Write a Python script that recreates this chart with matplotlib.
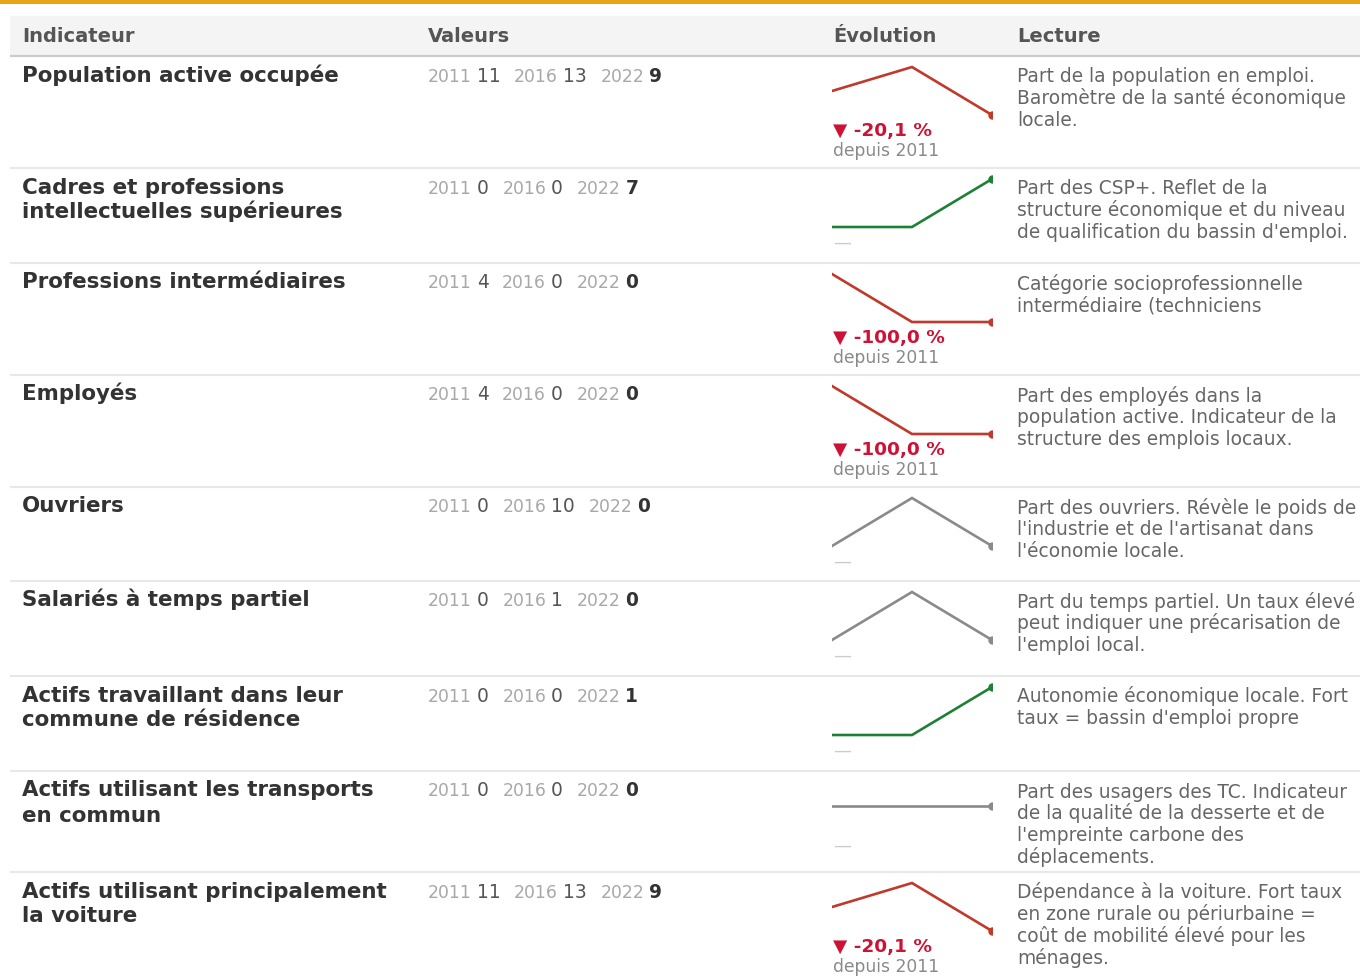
import matplotlib
matplotlib.use("Agg")
import matplotlib.pyplot as plt

plt.rcParams['font.family'] = ['DejaVu Sans']

# ---------------- data ----------------
headers = ["Indicateur", "Valeurs", "Évolution", "Lecture"]
years = ["2011", "2016", "2022"]
indicators = [
    "Population active occupée",
    "Cadres et professions\nintellectuelles supérieures",
    "Professions intermédiaires",
    "Employés",
    "Ouvriers",
    "Salariés à temps partiel",
    "Actifs travaillant dans leur\ncommune de résidence",
    "Actifs utilisant les transports\nen commun",
    "Actifs utilisant principalement\nla voiture",
]
v2011 = [11, 0, 4, 4, 0, 0, 0, 0, 11]
v2016 = [13, 0, 0, 0, 10, 1, 0, 0, 13]
v2022 = [9, 7, 0, 0, 0, 0, 1, 0, 9]
change_pct = ["-20,1", None, "-100,0", "-100,0", None, None, None, None, "-20,1"]
readings = [
    "Part de la population en emploi.\nBaromètre de la santé économique\nlocale.",
    "Part des CSP+. Reflet de la\nstructure économique et du niveau\nde qualification du bassin d'emploi.",
    "Catégorie socioprofessionnelle\nintermédiaire (techniciens",
    "Part des employés dans la\npopulation active. Indicateur de la\nstructure des emplois locaux.",
    "Part des ouvriers. Révèle le poids de\nl'industrie et de l'artisanat dans\nl'économie locale.",
    "Part du temps partiel. Un taux élevé\npeut indiquer une précarisation de\nl'emploi local.",
    "Autonomie économique locale. Fort\ntaux = bassin d'emploi propre",
    "Part des usagers des TC. Indicateur\nde la qualité de la desserte et de\nl'empreinte carbone des\ndéplacements.",
    "Dépendance à la voiture. Fort taux\nen zone rurale ou périurbaine =\ncoût de mobilité élevé pour les\nménages.",
]

# ---------------- layout ----------------
W, H = 1360, 976
row_tops = [56, 168, 263, 375, 487, 581, 676, 771, 872]
col_x = [22, 428, 833, 1017]
spark_x0, spark_x1 = 832, 992

RED_LINE = "#c0392b"
GREEN_LINE = "#1e8035"
GREY_LINE = "#8a8a8a"
RED_TXT = "#cc1236"

fig = plt.figure(figsize=(W / 100, H / 100), dpi=100)
ax = fig.add_axes([0, 0, 1, 1])
ax.set_xlim(0, W)
ax.set_ylim(H, 0)
ax.axis("off")

# top accent bar
ax.fill_between([0, W], 0, 3.5, color="#e9a416", lw=0)
# header band
ax.fill_between([10, W], 16, 55, color="#f4f4f4", lw=0)
ax.plot([10, W], [56, 56], color="#cccccc", lw=1.6, solid_capstyle="butt")
for cx, h in zip(col_x, headers):
    ax.text(cx, 42, h, fontsize=14, fontweight="bold", color="#555555",
            va="baseline", ha="left")

# row separators
for t in row_tops[1:]:
    ax.plot([10, W], [t, t], color="#e8e8e8", lw=1.5, solid_capstyle="butt")

fig.canvas.draw()
renderer = fig.canvas.get_renderer()


def width_of(t):
    bb = t.get_window_extent(renderer=renderer)
    return bb.width


def multiline(x, y0, text, step, **kw):
    for j, line in enumerate(text.split("\n")):
        ax.text(x, y0 + j * step, line, va="baseline", ha="left", **kw)


for i, top in enumerate(row_tops):
    base = top + 25.5
    # indicator title
    multiline(col_x[0], base, indicators[i], 25, fontsize=15.4,
              fontweight="bold", color="#333333")

    # values flow
    x = col_x[1]
    vals = [v2011[i], v2016[i], v2022[i]]
    for k, (yr, v) in enumerate(zip(years, vals)):
        ty = ax.text(x, base, yr, fontsize=12.4, color="#a8a8a8",
                     va="baseline", ha="left")
        x += width_of(ty) + 5
        last = (k == len(years) - 1)
        tv = ax.text(x, base, str(v), fontsize=13.4,
                     fontweight="bold" if last else "normal",
                     color="#333333" if last else "#555555",
                     va="baseline", ha="left")
        x += width_of(tv) + 13.5

    # sparkline
    lo, hi = min(vals), max(vals)
    if hi == lo:
        ylo, yhi = lo - 1, hi + 1
    else:
        ylo, yhi = lo, hi
    span = yhi - ylo
    box_top, box_bot = top + 5, top + 65
    pad = span * 6 / 48.0
    sax = fig.add_axes([spark_x0 / W, 1 - box_bot / H,
                        (spark_x1 - spark_x0) / W, (box_bot - box_top) / H])
    sax.set_xlim(0, 2)
    sax.set_ylim(ylo - pad, yhi + pad)
    sax.axis("off")
    sax.patch.set_alpha(0)
    if vals[-1] < vals[0]:
        col = RED_LINE
    elif vals[-1] > vals[0]:
        col = GREEN_LINE
    else:
        col = GREY_LINE
    sax.plot([0, 1, 2], vals, color=col, lw=1.9, solid_joinstyle="miter")
    sax.plot([2], [vals[-1]], marker="o", ms=5, color=col, clip_on=True)

    # change label
    if change_pct[i] is not None:
        ax.text(col_x[2], top + 80, "▼ " + change_pct[i] + " %", fontsize=13.3,
                fontweight="bold", color=RED_TXT, va="baseline", ha="left")
        ax.text(col_x[2], top + 100, "depuis 2011", fontsize=12.3,
                color="#8a8a8a", va="baseline", ha="left")
    else:
        ax.text(col_x[2], top + 80, "—", fontsize=13, color="#cccccc",
                va="baseline", ha="left")

    # reading
    multiline(col_x[3], top + 26.5, readings[i], 21.7, fontsize=13.4,
              color="#666666")

fig.savefig("out.png", dpi=100)
